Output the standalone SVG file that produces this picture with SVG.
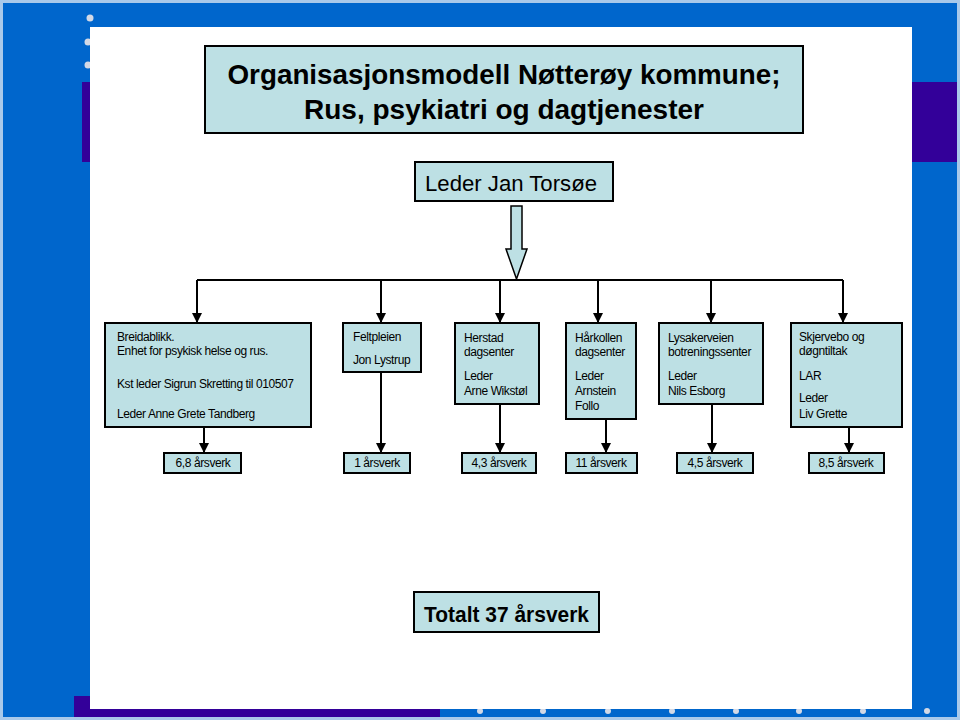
<svg xmlns="http://www.w3.org/2000/svg" width="960" height="720" viewBox="0 0 960 720">
<style>
.box{fill:#bde0e4;stroke:#000;stroke-width:2}
.t{font-family:"Liberation Sans",Arial,sans-serif;font-size:12px;fill:#000;letter-spacing:-0.4px}
.c{text-anchor:middle}
.ln{stroke:#000;stroke-width:2;fill:none}
.dot{fill:#d3d9e6}
</style>
<defs>
<marker id="ah" viewBox="0 0 10 10" refX="10" refY="5" markerWidth="10" markerHeight="10" markerUnits="userSpaceOnUse" orient="auto">
<path d="M0,0 L10,5 L0,10 z" fill="#000"/>
</marker>
</defs>
<!-- background -->
<rect x="0" y="0" width="960" height="720" fill="#a9c9ea"/>
<rect x="3" y="3" width="954" height="714" fill="#0066cc"/>
<rect x="74" y="696" width="366" height="21" fill="#330099"/>
<rect x="82" y="82" width="8" height="80" fill="#330099"/>
<rect x="912" y="82" width="45" height="80" fill="#330099"/>
<g class="dot">
<circle cx="90" cy="18" r="3.5"/><circle cx="88" cy="42" r="3.5"/><circle cx="88" cy="65" r="3.5"/>
<circle cx="480" cy="711" r="3"/><circle cx="543" cy="711" r="3"/><circle cx="608" cy="711" r="3"/><circle cx="672" cy="711" r="3"/><circle cx="736" cy="711" r="3"/><circle cx="799" cy="711" r="3"/><circle cx="863" cy="711" r="3"/><circle cx="927" cy="711" r="3"/>
</g>
<rect x="90" y="27" width="822" height="682" fill="#fff"/>

<g id="title">
<rect class="box" x="205" y="46" width="598" height="87"/>
<text x="504" y="84" text-anchor="middle" font-family="Liberation Sans,Arial,sans-serif" font-weight="bold" font-size="28" textLength="553" lengthAdjust="spacingAndGlyphs">Organisasjonsmodell Nøtterøy kommune;</text>
<text x="504" y="119" text-anchor="middle" font-family="Liberation Sans,Arial,sans-serif" font-weight="bold" font-size="28">Rus, psykiatri og dagtjenester</text>
</g>

<g id="leder">
<rect class="box" x="415" y="162" width="198" height="39"/>
<text x="425" y="191" font-family="Liberation Sans,Arial,sans-serif" font-size="22" textLength="172" lengthAdjust="spacingAndGlyphs">Leder Jan Torsøe</text>
</g>

<g id="connectors">
<polygon points="511,206 522,206 522,249 527,249 516.5,279 506,249 511,249" fill="#bde0e4" stroke="#000" stroke-width="1.5"/>
<line class="ln" x1="197" y1="280" x2="843" y2="280"/>
<line class="ln" x1="197" y1="280" x2="197" y2="323" marker-end="url(#ah)"/>
<line class="ln" x1="381" y1="280" x2="381" y2="323" marker-end="url(#ah)"/>
<line class="ln" x1="500" y1="280" x2="500" y2="323" marker-end="url(#ah)"/>
<line class="ln" x1="598" y1="280" x2="598" y2="323" marker-end="url(#ah)"/>
<line class="ln" x1="711" y1="280" x2="711" y2="323" marker-end="url(#ah)"/>
<line class="ln" x1="843" y1="280" x2="843" y2="323" marker-end="url(#ah)"/>
<line class="ln" x1="204" y1="427" x2="204" y2="453" marker-end="url(#ah)"/>
<line class="ln" x1="381" y1="372" x2="381" y2="453" marker-end="url(#ah)"/>
<line class="ln" x1="500" y1="404" x2="500" y2="453" marker-end="url(#ah)"/>
<line class="ln" x1="606" y1="419" x2="606" y2="453" marker-end="url(#ah)"/>
<line class="ln" x1="712" y1="404" x2="712" y2="453" marker-end="url(#ah)"/>
<line class="ln" x1="849" y1="427" x2="849" y2="453" marker-end="url(#ah)"/>
</g>

<g id="breidablikk">
<rect class="box" x="105" y="323" width="206" height="104"/>
<text class="t" x="117" y="341">Breidablikk.</text>
<text class="t" x="117" y="355">Enhet for psykisk helse og rus.</text>
<text class="t" x="117" y="388">Kst leder Sigrun Skretting til 010507</text>
<text class="t" x="117" y="418">Leder Anne Grete Tandberg</text>
</g>

<g id="feltpleien">
<rect class="box" x="343" y="323" width="78" height="49"/>
<text class="t" x="353" y="341">Feltpleien</text>
<text class="t" x="353" y="364">Jon Lystrup</text>
</g>

<g id="herstad">
<rect class="box" x="455" y="323" width="84" height="81"/>
<text class="t" x="464" y="342">Herstad</text>
<text class="t" x="464" y="356">dagsenter</text>
<text class="t" x="464" y="380">Leder</text>
<text class="t" x="464" y="395">Arne Wikstøl</text>
</g>

<g id="harkollen">
<rect class="box" x="566" y="323" width="70" height="96"/>
<text class="t" x="575" y="342">Hårkollen</text>
<text class="t" x="575" y="356">dagsenter</text>
<text class="t" x="575" y="380">Leder</text>
<text class="t" x="575" y="395">Arnstein</text>
<text class="t" x="575" y="410">Follo</text>
</g>

<g id="lysakerveien">
<rect class="box" x="659" y="323" width="104" height="81"/>
<text class="t" x="668" y="342">Lysakerveien</text>
<text class="t" x="668" y="356">botreningssenter</text>
<text class="t" x="668" y="380">Leder</text>
<text class="t" x="668" y="395">Nils Esborg</text>
</g>

<g id="skjervebo">
<rect class="box" x="791" y="323" width="111" height="104"/>
<text class="t" x="799" y="341">Skjervebo og</text>
<text class="t" x="799" y="355">døgntiltak</text>
<text class="t" x="799" y="380">LAR</text>
<text class="t" x="799" y="402">Leder</text>
<text class="t" x="799" y="418">Liv Grette</text>
</g>

<g id="aarsverk1"><rect class="box" x="164" y="453" width="77" height="20"/><text class="t c" x="203" y="467">6,8 årsverk</text></g>
<g id="aarsverk2"><rect class="box" x="344" y="453" width="66" height="20"/><text class="t c" x="377" y="467">1 årsverk</text></g>
<g id="aarsverk3"><rect class="box" x="462" y="453" width="74" height="20"/><text class="t c" x="499" y="467">4,3 årsverk</text></g>
<g id="aarsverk4"><rect class="box" x="566" y="453" width="71" height="20"/><text class="t c" x="601" y="467">11 årsverk</text></g>
<g id="aarsverk5"><rect class="box" x="677" y="453" width="76" height="20"/><text class="t c" x="715" y="467">4,5 årsverk</text></g>
<g id="aarsverk6"><rect class="box" x="809" y="453" width="75" height="20"/><text class="t c" x="846" y="467">8,5 årsverk</text></g>

<g id="totalt">
<rect class="box" x="414" y="592" width="185" height="40"/>
<text x="424" y="622" font-family="Liberation Sans,Arial,sans-serif" font-weight="bold" font-size="22" textLength="165" lengthAdjust="spacingAndGlyphs">Totalt 37 årsverk</text>
</g>
</svg>
